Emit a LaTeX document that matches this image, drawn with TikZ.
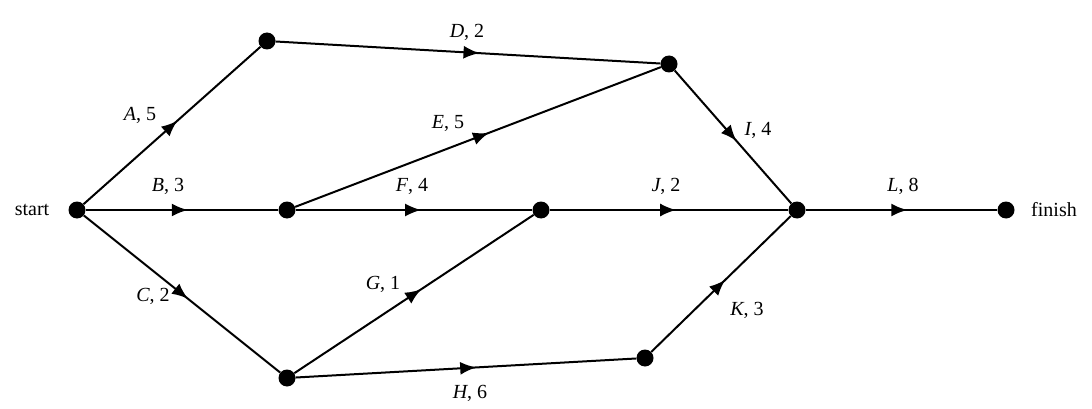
\documentclass[tikz,border=0pt]{standalone}
\usepackage{fontspec}
\setmainfont{Liberation Serif}
\usetikzlibrary{decorations.markings,arrows.meta}
\begin{document}
\begin{tikzpicture}[x=1pt,y=-1pt,
  vtx/.style={circle,fill=black,inner sep=0pt,minimum size=17pt},
  edge/.style={line width=2pt,postaction={decorate},decoration={markings,mark=at position 0.53 with {\arrow{Latex[length=16pt,width=13pt]}}}},
  lab/.style={font=\fontsize{20}{24}\selectfont,inner sep=0pt}]
\useasboundingbox (0,0) rectangle (1092,409);
\node[vtx] (s) at (77,210) {};
\node[vtx] (n1) at (267,41) {};
\node[vtx] (n2) at (669,64) {};
\node[vtx] (n3) at (287,210) {};
\node[vtx] (n4) at (541,210) {};
\node[vtx] (n5) at (797,210) {};
\node[vtx] (f) at (1006,210) {};
\node[vtx] (n6) at (287,378) {};
\node[vtx] (n7) at (645,358) {};
\draw[edge] (s) -- (n1);
\draw[edge] (s) -- (n3);
\draw[edge] (s) -- (n6);
\draw[edge] (n1) -- (n2);
\draw[edge] (n3) -- (n2);
\draw[edge] (n3) -- (n4);
\draw[edge] (n6) -- (n4);
\draw[edge] (n6) -- (n7);
\draw[edge] (n2) -- (n5);
\draw[edge] (n4) -- (n5);
\draw[edge] (n7) -- (n5);
\draw[edge] (n5) -- (f);
\node[lab] (ls) at (32,210) {start};
\node[lab] (lf) at (1054,210) {finish};
\node[lab] (la) at (140,115) {\textit{A}, 5};
\node[lab] (lb) at (168,186) {\textit{B}, 3};
\node[lab] (lc) at (153,296) {\textit{C}, 2};
\node[lab] (ld) at (467,32) {\textit{D}, 2};
\node[lab] (le) at (448,123) {\textit{E}, 5};
\node[lab] (lF) at (412,186) {\textit{F}, 4};
\node[lab] (lg) at (383,284) {\textit{G}, 1};
\node[lab] (lh) at (470,393) {\textit{H}, 6};
\node[lab] (li) at (758,130) {\textit{I}, 4};
\node[lab] (lj) at (666,186) {\textit{J}, 2};
\node[lab] (lk) at (747,310) {\textit{K}, 3};
\node[lab] (ll) at (903,186) {\textit{L}, 8};
\end{tikzpicture}
\end{document}
